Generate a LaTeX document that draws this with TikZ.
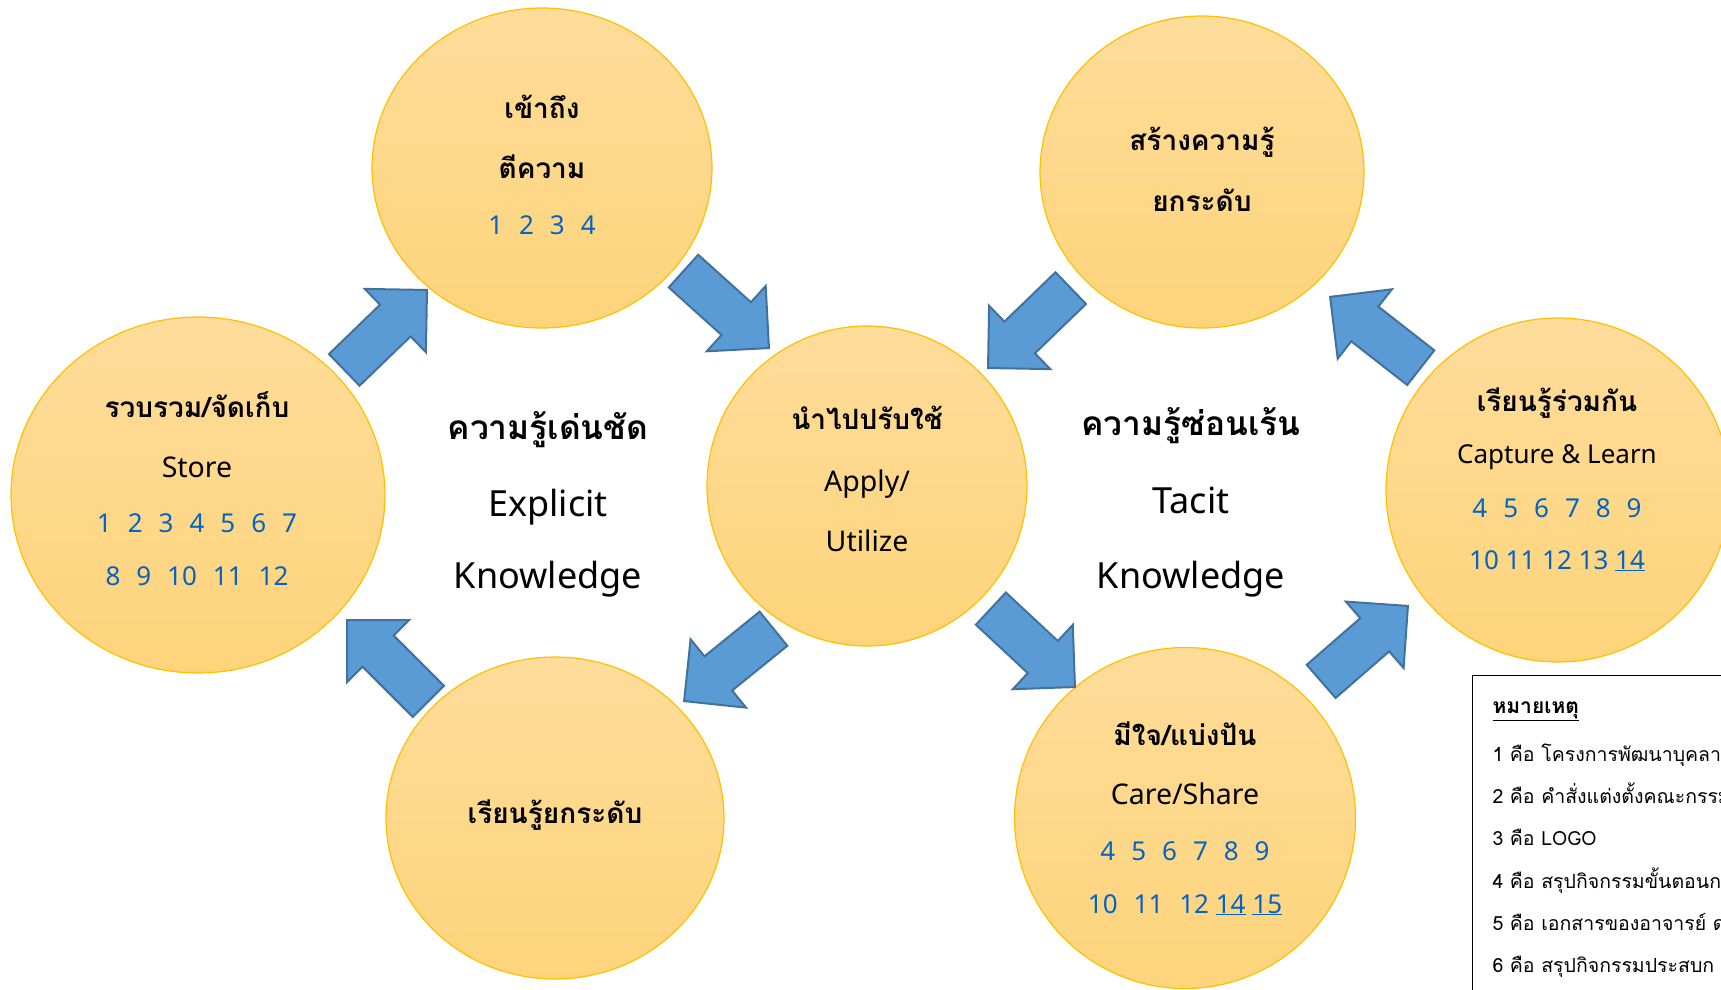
\documentclass[tikz,border=0pt]{standalone}
\usepackage{fontspec}
\setmainfont{Noto Sans}
\newfontfamily\thaifont[Script=Thai]{Loma}
\usetikzlibrary{shapes.geometric,shapes.arrows}

\definecolor{kmgold}{HTML}{FFC000}
\definecolor{kmtop}{HTML}{FEDC9A}
\definecolor{kmbottom}{HTML}{FED47B}
\definecolor{kmblue}{HTML}{5B9BD5}
\definecolor{kmblueline}{HTML}{41719C}
\definecolor{linkblue}{HTML}{0563C1}

\newcommand{\ngap}{\hspace{16pt}}

\tikzset{
  circ/.style={ellipse, draw=kmgold, line width=1.2pt, top color=kmtop, bottom color=kmbottom, inner sep=0pt},
  arr/.style={single arrow, draw=kmblueline, fill=kmblue, line width=2pt, minimum height=115pt, inner xsep=0pt, inner ysep=21pt, single arrow head extend=22pt, single arrow tip angle=90, anchor=tip},
  thai/.style={anchor=base, font=\thaifont\bfseries\fontsize{28}{32}\selectfont},
  eng/.style={anchor=base, font=\fontsize{28.5}{32}\selectfont},
  num/.style={anchor=base, text=linkblue, font=\fontsize{26}{30}\selectfont},
  big/.style={anchor=base, font=\fontsize{36}{40}\selectfont},
  bigthai/.style={anchor=base, font=\thaifont\bfseries\fontsize{33.5}{40}\selectfont},
  note/.style={anchor=base west, font=\thaifont\fontsize{19.5}{24}\selectfont}
}

\begin{document}
\begin{tikzpicture}[x=1pt, y=-1pt]
	\useasboundingbox (0,0) rectangle (1721,990);
	\clip (0,0) rectangle (1721,990);

	% circles
	\node[circ, minimum width=340pt, minimum height=320pt] (access) at (542,168) {};
	\node[circ, minimum width=324pt, minimum height=312pt] (create) at (1202,172) {};
	\node[circ, minimum width=374pt, minimum height=356pt] (store) at (198,495) {};
	\node[circ, minimum width=320pt, minimum height=320pt] (apply) at (867,486) {};
	\node[circ, minimum width=338pt, minimum height=322pt] (uplevel) at (555,818) {};
	\node[circ, minimum width=341pt, minimum height=341pt] (care) at (1185,818) {};
	\node[circ, minimum width=344pt, minimum height=344pt] (learn) at (1558,490) {};

	% block arrows, placed by their tips
	\node[arr, rotate=44] (a1) at (428,289) {};
	\node[arr, rotate=-42] (a2) at (770,349) {};
	\node[arr, rotate=224] (a3) at (987,369) {};
	\node[arr, rotate=142] (a4) at (1329,296) {};
	\node[arr, rotate=135] (a5) at (346,619) {};
	\node[arr, rotate=219] (a6) at (683,702) {};
	\node[arr, rotate=-43] (a7) at (1076,688) {};
	\node[arr, rotate=41] (a8) at (1409,605) {};

	% texts in the circles
	\node[thai] (access-1) at (542,118) {เข้าถึง};
	\node[thai] (access-2) at (542,178) {ตีความ};
	\node[num] (access-3) at (542,234) {1\ngap 2\ngap 3\ngap 4};

	\node[thai] (create-1) at (1202,150) {สร้างความรู้};
	\node[thai] (create-2) at (1202,211) {ยกระดับ};

	\node[thai] (store-1) at (197,417) {รวบรวม/จัดเก็บ};
	\node[eng] (store-2) at (197,477) {Store};
	\node[num] (store-3) at (197,532) {1\ngap 2\ngap 3\ngap 4\ngap 5\ngap 6\ngap 7};
	\node[num] (store-4) at (197,585) {8\ngap 9\ngap 10\ngap 11\ngap 12};

	\node[thai] (apply-1) at (867,429) {นำไปปรับใช้};
	\node[eng] (apply-2) at (867,491) {Apply/};
	\node[eng] (apply-3) at (867,551) {Utilize};

	\node[thai] (uplevel-1) at (555,823) {เรียนรู้ยกระดับ};

	\node[thai] (care-1) at (1185,745) {มีใจ/แบ่งปัน};
	\node[eng] (care-2) at (1185,804) {Care/Share};
	\node[num] (care-3) at (1185,860) {4\ngap 5\ngap 6\ngap 7\ngap 8\ngap 9};
	\node[num] (care-4) at (1185,913) {10\ngap 11\ngap 12 \underline{14} \underline{15}};

	\node[thai] (learn-1) at (1557,411) {เรียนรู้ร่วมกัน};
	\node[eng, font=\fontsize{26}{30}\selectfont] (learn-2) at (1557,463) {Capture \& Learn};
	\node[num] (learn-3) at (1557,517) {4\ngap 5\ngap 6\ngap 7\ngap 8\ngap 9};
	\node[num] (learn-4) at (1557,569) {10 11 12 13 \underline{14}};

	% explicit / tacit
	\node[bigthai] (explicit-1) at (548,439) {ความรู้เด่นชัด};
	\node[big] (explicit-2) at (548,516) {Explicit};
	\node[big] (explicit-3) at (548,588) {Knowledge};

	\node[bigthai] (tacit-1) at (1191,435) {ความรู้ซ่อนเร้น};
	\node[big] (tacit-2) at (1191,513) {Tacit};
	\node[big] (tacit-3) at (1191,588) {Knowledge};

	% legend
	\node[draw, fill=white, line width=1pt, anchor=north west, minimum width=320pt, minimum height=360pt] (legend) at (1472,675) {};
	\node[note, font=\thaifont\bfseries\fontsize{21}{24}\selectfont] (note-0) at (1489,713) {\underline{หมายเหตุ}};
	\node[note] (note-1) at (1489,761) {1 คือ โครงการพัฒนาบุคลาก};
	\node[note] (note-2) at (1489,803) {2 คือ คำสั่งแต่งตั้งคณะกรรม};
	\node[note] (note-3) at (1489,845) {3 คือ LOGO};
	\node[note] (note-4) at (1489,888) {4 คือ สรุปกิจกรรมขั้นตอนก};
	\node[note] (note-5) at (1489,930) {5 คือ เอกสารของอาจารย์ ด};
	\node[note] (note-6) at (1489,972) {6 คือ สรุปกิจกรรมประสบก};
\end{tikzpicture}
\end{document}
